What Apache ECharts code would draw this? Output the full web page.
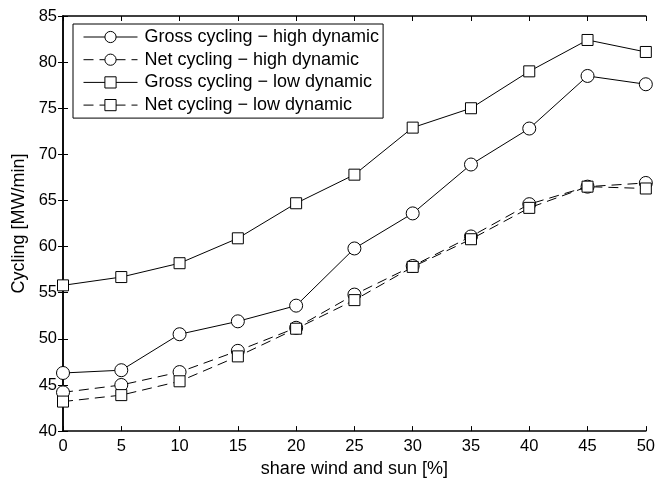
<!DOCTYPE html>
<html>
<head>
<meta charset="utf-8">
<script src="https://cdn.jsdelivr.net/npm/echarts@6/dist/echarts.min.js"></script>
<style>html,body{margin:0;padding:0;background:#fff}#c{width:658px;height:483px}</style>
</head>
<body>
<div id="c"></div>
<script>
const shares = [0, 5, 10, 15, 20, 25, 30, 35, 40, 45, 50];
const grossHigh = [46.3, 46.6, 50.5, 51.9, 53.6, 59.8, 63.6, 68.9, 72.8, 78.5, 77.6];
const netHigh   = [44.2, 45.0, 46.4, 48.7, 51.2, 54.8, 57.9, 61.1, 64.6, 66.5, 66.9];
const grossLow  = [55.8, 56.7, 58.2, 60.9, 64.7, 67.8, 72.9, 75.0, 79.0, 82.4, 81.1];
const netLow    = [43.2, 43.9, 45.4, 48.1, 51.1, 54.2, 57.8, 60.8, 64.2, 66.5, 66.3];
const seriesNames = ['Gross cycling \u2212 high dynamic', 'Net cycling \u2212 high dynamic', 'Gross cycling \u2212 low dynamic', 'Net cycling \u2212 low dynamic'];

const font = 'Liberation Sans, Arial, Helvetica, sans-serif';
const pairs = arr => shares.map((x, i) => [x, arr[i]]);
function mk(name, arr, sym, size, dashed) {
  return {
    name, type: 'line', data: pairs(arr), symbol: sym, symbolSize: size,
    showAllSymbol: true,
    lineStyle: { color: '#000', width: 1, type: dashed ? [10, 6] : 'solid' },
    itemStyle: { color: '#fff', borderColor: '#000', borderWidth: 1 },
    emphasis: { disabled: true }, animation: false
  };
}
const axisLineStyle = { show: true, lineStyle: { color: '#000', width: 1.5 } };
const chart = echarts.init(document.getElementById('c'), null, { renderer: 'canvas' });
chart.setOption({
  backgroundColor: '#fff',
  animation: false,
  grid: { left: 63, right: 9, top: 16, bottom: 50 },
  legend: {
    orient: 'vertical', left: 73, top: 24,
    padding: [4, 4, 4, 10], itemGap: 4.7, itemWidth: 54, itemHeight: 14,
    borderColor: '#000', borderWidth: 1, backgroundColor: '#fff',
    lineStyle: { width: 1 },
    itemStyle: { borderWidth: 1 },
    textStyle: { fontFamily: font, fontSize: 18, color: '#000', padding: [0, 0, 0, 2] },
    data: seriesNames
  },
  xAxis: [
    { type: 'value', min: 0, max: 50, interval: 5, position: 'bottom',
      name: 'share wind and sun [%]', nameLocation: 'middle', nameGap: 28,
      nameTextStyle: { fontFamily: font, fontSize: 18, color: '#000' },
      axisLine: axisLineStyle, axisTick: { inside: true, length: 5, lineStyle: { color: '#000' } },
      axisLabel: { fontFamily: font, fontSize: 16.5, color: '#000', margin: 7 }, splitLine: { show: false } },
    { type: 'value', min: 0, max: 50, interval: 5, position: 'top',
      axisLine: axisLineStyle, axisTick: { inside: true, length: 5, lineStyle: { color: '#000' } },
      axisLabel: { show: false }, splitLine: { show: false } }
  ],
  yAxis: [
    { type: 'value', min: 40, max: 85, interval: 5, position: 'left',
      name: 'Cycling [MW/min]', nameLocation: 'middle', nameGap: 34,
      nameTextStyle: { fontFamily: font, fontSize: 18, color: '#000' },
      axisLine: axisLineStyle, axisTick: { inside: true, length: 5, lineStyle: { color: '#000' } },
      axisLabel: { fontFamily: font, fontSize: 16.5, color: '#000', margin: 6 }, splitLine: { show: false } },
    { type: 'value', min: 40, max: 85, interval: 5, position: 'right',
      axisLine: axisLineStyle, axisTick: { inside: true, length: 5, lineStyle: { color: '#000' } },
      axisLabel: { show: false }, splitLine: { show: false } }
  ],
  series: [
    mk(seriesNames[0], grossHigh, 'circle', 13, false),
    mk(seriesNames[1], netHigh, 'circle', 13, true),
    mk(seriesNames[2], grossLow, 'rect', 11, false),
    mk(seriesNames[3], netLow, 'rect', 11, true)
  ]
});
</script>
</body>
</html>
